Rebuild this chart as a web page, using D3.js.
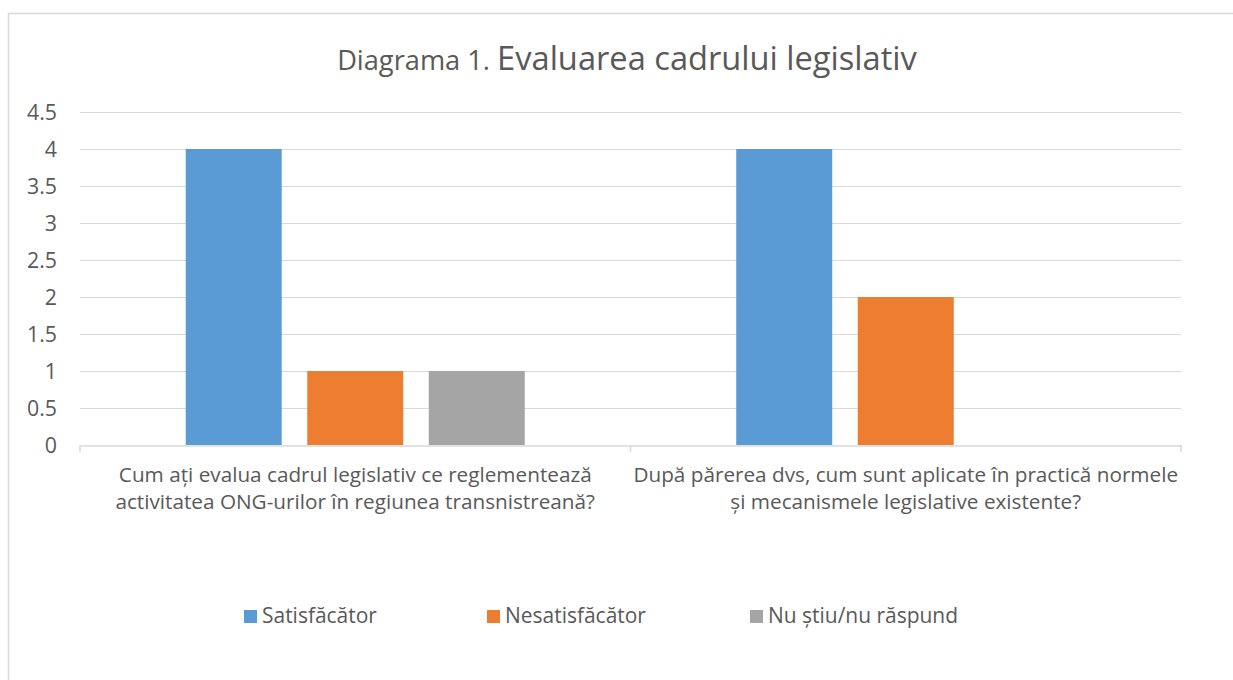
<!DOCTYPE html>
<html>
<head>
<meta charset="utf-8">
<script src="https://cdn.jsdelivr.net/npm/d3@7"></script>
<style>
  html, body { margin: 0; padding: 0; background: #fff; }
  svg { display: block; }
  text { font-family: "Open Sans", "Noto Sans", sans-serif; fill: #595959; }
</style>
</head>
<body>
<script>
// ---- data ----
const categories = ["Q1", "Q2"];
const categoryLines = [
  ["Cum ați evalua cadrul legislativ ce reglementează", "activitatea ONG-urilor în regiunea transnistreană?"],
  ["După părerea dvs, cum sunt aplicate în practică normele", "și mecanismele legislative existente?"]
];
const seriesNames = ["Satisfăcător", "Nesatisfăcător", "Nu știu/nu răspund"];
const satisfacator = [4, 4];
const nesatisfacator = [1, 2];
const nuStiu = [1, 0];
const yTicks = [0, 0.5, 1, 1.5, 2, 2.5, 3, 3.5, 4, 4.5];
const colors = ["#5B9BD5", "#ED7D31", "#A5A5A5"];
const titleSmall = "Diagrama 1. ";
const titleLarge = "Evaluarea cadrului legislativ";

const seriesValues = [satisfacator, nesatisfacator, nuStiu];

(function () {
const W = 1233, H = 680;
const svg = d3.select("body").append("svg").attr("width", W).attr("height", H);

// size a font so that a sample string reaches a target width
function fitSize(sample, target, base) {
  const t = svg.append("text").attr("font-size", base).text(sample);
  const w = t.node().getComputedTextLength();
  t.remove();
  return base * target / w;
}

// frame
svg.append("rect").attr("x", 8.5).attr("y", 13.5).attr("width", 1300).attr("height", 800)
  .attr("fill", "none").attr("stroke", "#d9d9d9").attr("stroke-width", 1.5);

const pLeft = 80, pRight = 1181, pTop = 112, pBottom = 445;
const x0 = d3.scaleBand().domain(categories).range([pLeft, pRight]).padding(0);
const x1 = d3.scaleBand().domain(seriesNames).range([0, x0.bandwidth()]).paddingInner(0.21).paddingOuter(0.87);
const y = d3.scaleLinear().domain([0, 4.5]).range([pBottom, pTop]);

// gridlines
svg.append("g").selectAll("line").data(yTicks.filter(d => d > 0)).join("line")
  .attr("x1", pLeft).attr("x2", pRight)
  .attr("y1", d => Math.round(y(d)) + 0.5).attr("y2", d => Math.round(y(d)) + 0.5)
  .attr("stroke", "#d9d9d9").attr("stroke-width", 1);

// y labels
const yFs = fitSize("4.5", 30, 16);
svg.append("g").selectAll("text").data(yTicks).join("text")
  .attr("x", 57).attr("y", d => y(d)).attr("dy", "0.36em")
  .attr("text-anchor", "end").attr("font-size", yFs)
  .text(d => d);

// bars
const groups = svg.append("g").selectAll("g").data(categories).join("g")
  .attr("transform", d => `translate(${x0(d)},0)`);
groups.selectAll("rect").data((d, i) => seriesNames.map((s, j) => ({s, v: seriesValues[j][i], c: colors[j]})))
  .join("rect")
  .attr("x", d => x1(d.s)).attr("width", x1.bandwidth())
  .attr("y", d => y(d.v)).attr("height", d => y(0) - y(d.v))
  .attr("fill", d => d.c);

// x axis
const xAxis = d3.axisBottom(x0).tickSize(0).tickFormat("");
const gx = svg.append("g").attr("transform", `translate(0,${pBottom + 0.5})`).call(xAxis);
gx.select(".domain").attr("stroke", "#d9d9d9").attr("stroke-width", 1.5);
const boundaries = [pLeft, ...categories.map(c => x0(c) + x0.bandwidth())];
svg.append("g").selectAll("line").data(boundaries).join("line")
  .attr("x1", d => d).attr("x2", d => d).attr("y1", pBottom).attr("y2", pBottom + 7)
  .attr("stroke", "#d9d9d9").attr("stroke-width", 1.5);

// category labels
const catFs = fitSize(categoryLines[0][0], 473, 17);
categories.forEach((c, i) => {
  const cx = x0(c) + x0.bandwidth() / 2;
  categoryLines[i].forEach((line, k) => {
    svg.append("text").attr("x", cx).attr("y", 482 + k * 27)
      .attr("text-anchor", "middle").attr("font-size", catFs).text(line);
  });
});

// title
const smallFs = fitSize("Diagrama 1.", 153, 18);
const largeFs = fitSize(titleLarge, 420, 24);
const title = svg.append("text").attr("x", 627).attr("y", 70).attr("text-anchor", "middle");
title.append("tspan").attr("font-size", smallFs).text(titleSmall);
title.append("tspan").attr("font-size", largeFs).text(titleLarge);

// legend
const legFs = fitSize(seriesNames[1], 141, 17);
const legendX = [244, 487, 750];
const lg = svg.append("g").selectAll("g").data(seriesNames).join("g")
  .attr("transform", (d, i) => `translate(${legendX[i]},610)`);
lg.append("rect").attr("width", 13).attr("height", 13).attr("fill", (d, i) => colors[i]);
lg.append("text").attr("x", 18).attr("y", 13).attr("font-size", legFs).text(d => d);
})();
</script>
</body>
</html>
